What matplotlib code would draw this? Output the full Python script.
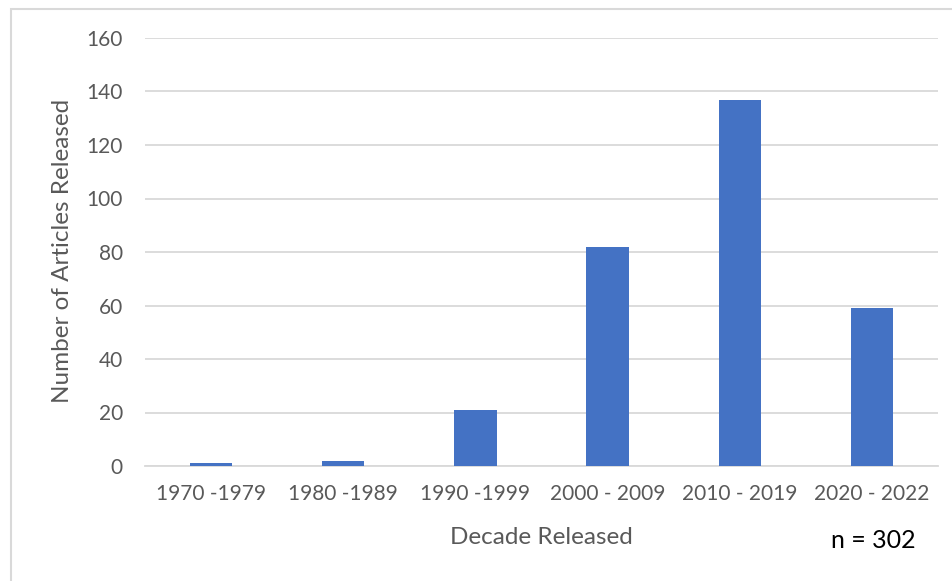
import numpy as np
import matplotlib.pyplot as plt
from matplotlib.patches import Rectangle

plt.rcParams['font.family'] = ['Lato', 'DejaVu Sans']

decades = ['1970 -1979', '1980 -1989', '1990 -1999', '2000 - 2009', '2010 - 2019', '2020 - 2022']
articles = [1, 2, 21, 82, 137, 59]

W, H = 952, 581
fig = plt.figure(figsize=(W / 100, H / 100), dpi=100)
ax = fig.add_axes([145 / W, 1 - 466 / H, (938 - 145) / W, (466 - 38) / H])

x = np.arange(len(decades))
ax.bar(x, articles, width=0.32, color='#4472c4', zorder=3)

ax.set_xlim(-0.5, len(decades) - 0.5)
ax.set_ylim(0, 160)
ax.set_yticks(np.arange(0, 161, 20))
ax.set_xticks(x)
ax.set_xticklabels(decades)
ax.grid(axis='y', color='#d9d9d9', linewidth=1.3, zorder=0)
for s in ['top', 'right', 'left']:
    ax.spines[s].set_visible(False)
ax.spines['bottom'].set_color('#d9d9d9')
ax.spines['bottom'].set_linewidth(1.3)
ax.tick_params(length=0, labelsize=15, colors='#595959')
ax.tick_params(axis='x', pad=13)
ax.tick_params(axis='y', pad=16)

# axis titles
fig.text(541 / W, 1 - 537 / H, 'Decade Released', fontsize=17.5, color='#595959',
         ha='center', va='center')
fig.text(63 / W, 1 - 251 / H, 'Number of Articles Released', fontsize=17.5, color='#595959',
         ha='center', va='center', rotation=90)

fig.text(873 / W, 1 - 540 / H, 'n = 302', fontsize=18, color='black', ha='center', va='center')

# chart area border
fig.patches.append(Rectangle((11 / W, -0.1), 1.0, 1 - 9 / H + 0.1, transform=fig.transFigure,
                             fill=False, edgecolor='#d9d9d9', linewidth=1.5))

fig.savefig('out.png', dpi=100)
